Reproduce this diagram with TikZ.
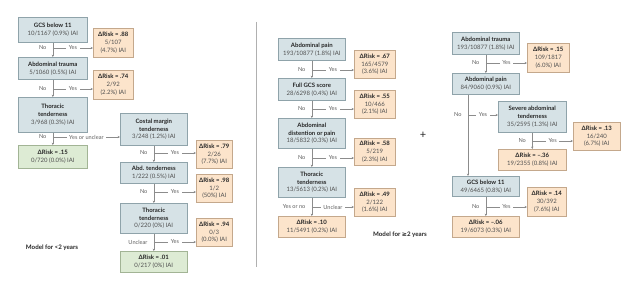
\documentclass[tikz,border=0pt]{standalone}
\usepackage{fontspec}
\setmainfont{Lato}
\newfontfamily\symfont{DejaVu Sans}
\usetikzlibrary{arrows.meta}
\definecolor{bfill}{HTML}{D6E2E6}
\definecolor{bline}{HTML}{8FA3AA}
\definecolor{ofill}{HTML}{FCE4CB}
\definecolor{oline}{HTML}{C4A88C}
\definecolor{gfill}{HTML}{DDEBD4}
\definecolor{gline}{HTML}{A2B495}
\definecolor{lgray}{HTML}{8C8C8C}
\definecolor{txt}{HTML}{505050}
\definecolor{ttxt}{HTML}{262626}
\definecolor{lbltxt}{HTML}{606060}
\definecolor{divgray}{HTML}{B0B0B0}
\tikzset{
 box/.style={draw, line width=0.6pt, align=center, inner sep=0.8pt, anchor=north west,
   font=\fontsize{6}{7.9}\selectfont, text=txt},
 bbox/.style={box, fill=bfill, draw=bline},
 obox/.style={box, fill=ofill, draw=oline},
 gbox/.style={box, fill=gfill, draw=gline},
 conn/.style={draw=lgray, line width=0.5pt},
 arr/.style={conn, -{Stealth[length=2.4pt,width=2.2pt]}},
 lbl/.style={font=\fontsize{5.6}{6.5}\selectfont, text=lbltxt, inner sep=1.2pt},
 yeslbl/.style={lbl, fill=white, inner xsep=2.5pt},
 modellbl/.style={font=\bfseries\fontsize{6.2}{7}\selectfont, text=ttxt, inner sep=0pt},
}
\newcommand\tl[1]{{\bfseries\color{ttxt}#1}}
\newcommand\mkbox[7]{\node[#2, minimum width={(#5-#3)*1pt}, minimum height={(#6-#4)*1pt}] (#1) at (#3,#4) {#7};}
% row: name, from node, y, left text, right text, target
\newcommand\mkrow[6]{%
  \coordinate (#1) at (#2.south |- 0,#3);
  \node[lbl, anchor=east] at ([xshift=-5pt]#1) {#4};
  \draw[arr] (#1) -- node[yeslbl]{#5} (#6.west |- #1);}
\begin{document}
\begin{tikzpicture}[x=1pt,y=-1pt]
\useasboundingbox[fill=white] (0,0) rectangle (623,286);

% ---------------- left panel: < 2 years ----------------
\mkbox{L1}{bbox}{18}{17}{87}{42}{\tl{GCS below 11}\\10/1167 (0.9\%) IAI}
\mkbox{L1r}{obox}{93}{28}{133}{57}{\tl{ΔRisk = .88}\\5/107\\(4.7\%) IAI}
\mkbox{L2}{bbox}{18}{57}{87}{79}{\tl{Abdominal trauma}\\5/1060 (0.5\%) IAI}
\mkbox{L2r}{obox}{93}{70}{133}{99}{\tl{ΔRisk = .74}\\2/92\\(2.2\%) IAI}
\mkbox{L3}{bbox}{18}{97}{87}{132}{\tl{Thoracic}\\\tl{tenderness}\\3/968 (0.3\%) IAI}
\mkbox{L3g}{gbox}{18}{145}{87}{168}{\tl{ΔRisk = .15}\\0/720 (0.0\%) IAI}
\mkbox{L4}{bbox}{120}{113}{187}{145}{\tl{Costal margin}\\\tl{tenderness}\\3/248 (1.2\%) IAI}
\mkbox{L4r}{obox}{196}{140}{232}{168}{\tl{ΔRisk = .79}\\2/26\\(7.7\%) IAI}
\mkbox{L5}{bbox}{120}{162}{187}{183}{\tl{Abd. tenderness}\\1/222 (0.5\%) IAI}
\mkbox{L5r}{obox}{196}{174}{232}{202}{\tl{ΔRisk = .98}\\1/2\\(50\%) IAI}
\mkbox{L6}{bbox}{120}{203}{187}{233}{\tl{Thoracic}\\\tl{tenderness}\\0/220 (0\%) IAI}
\mkbox{L6r}{obox}{196}{218}{232}{246}{\tl{ΔRisk = .94}\\0/3\\(0.0\%) IAI}
\mkbox{L6g}{gbox}{120}{251}{187}{272}{\tl{ΔRisk = .01}\\0/217 (0\%) IAI}

\mkrow{a1}{L1}{48}{No}{Yes}{L1r}
\mkrow{a2}{L2}{89}{No}{Yes}{L2r}
\mkrow{a3}{L3}{137}{No}{Yes or unclear}{L4}
\mkrow{a4}{L4}{153}{No}{Yes}{L4r}
\mkrow{a5}{L5}{192}{No}{Yes}{L5r}
\mkrow{a6}{L6}{242}{Unclear}{Yes}{L6r}
\draw[arr] (L1.south) -- (L2.north);
\draw[arr] (L2.south) -- (L3.north);
\draw[arr] (L3.south) -- (L3g.north);
\draw[arr] (L4.south) -- (L5.north);
\draw[arr] (L5.south) -- (L6.north);
\draw[arr] (L6.south) -- (L6g.north);

\node[modellbl] (mod1) at (52,248) {Model for <2 years};

% divider
\coordinate (dtop) at (256,22);
\coordinate (dbot) at (256,267);
\draw[draw=divgray, line width=0.5pt] (dtop) -- (dbot);

% ---------------- middle panel: >= 2 years ----------------
\mkbox{M1}{bbox}{278}{38}{345}{60}{\tl{Abdominal pain}\\193/10877 (1.8\%) IAI}
\mkbox{M1r}{obox}{354}{50}{395}{78}{\tl{ΔRisk = .67}\\165/4579\\(3.6\%) IAI}
\mkbox{M2}{bbox}{278}{78}{345}{100}{\tl{Full GCS score}\\28/6298 (0.4\%) IAI}
\mkbox{M2r}{obox}{354}{90}{395}{118}{\tl{ΔRisk = .55}\\10/466\\(2.1\%) IAI}
\mkbox{M3}{bbox}{278}{118}{345}{148}{\tl{Abdominal}\\\tl{distention or pain}\\18/5832 (0.3\%) IAI}
\mkbox{M3r}{obox}{354}{138}{395}{165}{\tl{ΔRisk = .58}\\5/219\\(2.3\%) IAI}
\mkbox{M4}{bbox}{278}{167}{345}{197}{\tl{Thoracic}\\\tl{tenderness}\\13/5613 (0.2\%) IAI}
\mkbox{M4r}{obox}{354}{188}{395}{216}{\tl{ΔRisk = .49}\\2/122\\(1.6\%) IAI}
\mkbox{M5}{obox}{278}{216}{345}{237}{\tl{ΔRisk = .10}\\11/5491 (0.2\%) IAI}

\mkrow{b1}{M1}{70}{No}{Yes}{M1r}
\mkrow{b2}{M2}{109}{No}{Yes}{M2r}
\mkrow{b3}{M3}{158}{No}{Yes}{M3r}
\mkrow{b4}{M4}{207}{Yes or no}{Unclear}{M4r}
\draw[arr] (M1.south) -- (M2.north);
\draw[arr] (M2.south) -- (M3.north);
\draw[arr] (M3.south) -- (M4.north);
\draw[arr] (M4.south) -- (M5.north);

\node[modellbl] (mod2) at (400,235) {Model for {\symfont ≥}2 years};
\node[inner sep=0pt, text=ttxt, font=\fontsize{11}{11}\selectfont] (plus) at (423,135) {+};

% ---------------- right panel ----------------
\mkbox{N1}{bbox}{452}{32}{519}{54}{\tl{Abdominal trauma}\\193/10877 (1.8\%) IAI}
\mkbox{N1r}{obox}{527}{43}{569}{72}{\tl{ΔRisk = .15}\\109/1817\\(6.0\%) IAI}
\mkbox{N2}{bbox}{452}{73}{519}{94}{\tl{Abdominal pain}\\84/9060 (0.9\%) IAI}
\mkbox{N3}{bbox}{498}{101}{566}{132}{\tl{Severe abdominal}\\\tl{tenderness}\\35/2595 (1.3\%) IAI}
\mkbox{N3r}{obox}{573}{122}{620}{150}{\tl{ΔRisk = .13}\\16/240\\(6.7\%) IAI}
\mkbox{N4}{obox}{498}{149}{566}{170}{\tl{ΔRisk = –.36}\\19/2355 (0.8\%) IAI}
\mkbox{N5}{bbox}{452}{176}{519}{196}{\tl{GCS below 11}\\49/6465 (0.8\%) IAI}
\mkbox{N5r}{obox}{527}{187}{566}{216}{\tl{ΔRisk = .14}\\30/392\\(7.6\%) IAI}
\mkbox{N6}{obox}{452}{216}{519}{237}{\tl{ΔRisk = –.06}\\19/6073 (0.3\%) IAI}

\mkrow{c1}{N1}{63}{No}{Yes}{N1r}
\coordinate (c2) at (468,115);
\node[lbl, anchor=east] at ([xshift=-5pt]c2) {No};
\draw[arr] (c2) -- node[yeslbl]{Yes} (N3.west |- c2);
\mkrow{c3}{N3}{141}{No}{Yes}{N3r}
\mkrow{c4}{N5}{207}{No}{Yes}{N5r}
\draw[arr] (N1.south) -- (N2.north);
\draw[arr] (N2.south -| c2) -- (N5.north -| c2);
\draw[arr] (N3.south) -- (N4.north);
\draw[arr] (N5.south) -- (N6.north);
\end{tikzpicture}
\end{document}
